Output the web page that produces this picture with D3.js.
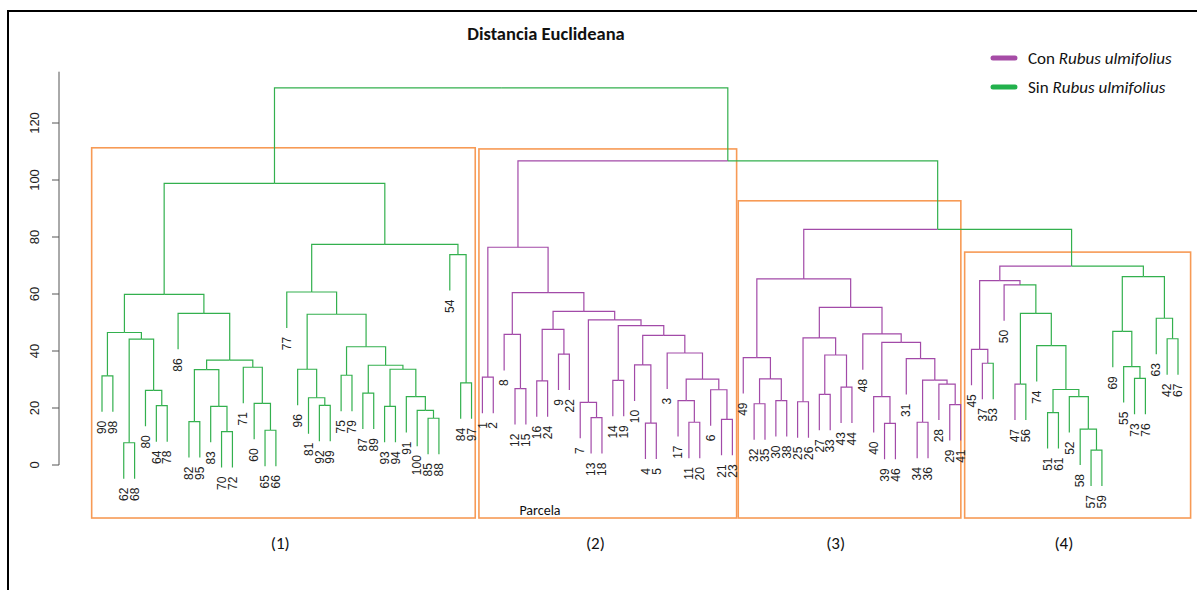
<!DOCTYPE html>
<html>
<head>
<meta charset="utf-8">
<script src="https://cdn.jsdelivr.net/npm/d3@7"></script>
<style>
  body { margin: 0; background: #fff; }
  svg { display: block; }
  .num { font-family: "Liberation Sans", Arial, sans-serif; fill: #222; }
  .cal { font-family: Carlito, Lato, "Open Sans", sans-serif; fill: #111; }
</style>
</head>
<body>
<svg id="chart" width="1197" height="590"></svg>
<script>
// merge nodes: [height, left, right, edgeColourFlag?]  leaves: plot number
const c1 = [98.8,
  [59.9,
    [46.5, [31.3, 90, 98], [44.2, [7.8, 62, 68], [26.2, 80, [20.8, 64, 78]]]],
    [53.2, 86, [36.8,
      [33.5, [15.2, 82, 95], [20.6, 83, [11.7, 70, 72]]],
      [34.3, 71, [21.6, 60, [12.2, 65, 66]]]]]],
  [77.4,
    [60.7, 77, [52.9,
      [33.6, 96, [23.6, 81, [20.9, 92, 99]]],
      [41.5, [31.5, 75, 79],
        [35.0, [25.2, 87, 89],
          [33.6, [20.6, 93, 94], [24.0, 91, [19.2, 100, [16.4, 85, 88]]]]]]]],
    [73.8, 54, [28.8, 84, 97]]]];

const c2 = [76.4,
  [30.8, 1, 2],
  [60.5,
    [45.8, 8, [26.8, 12, 15]],
    [53.9,
      [47.6, [29.5, 16, 24], [38.9, 9, 22]],
      [50.9,
        [22.0, 7, [16.6, 13, 18]],
        [48.9, [29.7, 14, 19],
          [45.5, [35.1, 10, [14.7, 4, 5]],
            [39.3, 3, [30.1, [22.6, 17, [15.0, 11, 20]], [26.4, 6, [16.0, 21, 23]]]]]]]]]];

const c3 = [65.3,
  [37.7, 49, [30.2, [21.5, 32, 35], [22.6, 30, 38]]],
  [55.3,
    [44.6, [22.2, 25, 26], [38.6, [24.8, 27, 33], [27.3, 43, 44]]],
    [46.0, 48, [43.0, [24.0, 40, [14.6, 39, 46]],
      [37.3, 31, [29.8, [15.0, 34, 36], [28.4, 28, [21.2, 29, 41]]]]]]]];

const c4 = [69.8,
  [64.7,
    [40.6, 45, [35.7, 37, 53, "p"], "p"],
    [63.2, 50, [53.2, [28.4, 47, 56],
      [41.9, 74, [26.5, [18.4, 51, 61], [24.0, 52, [12.6, 58, [5.2, 57, 59]]]]]], "p"],
    "p"],
  [66.1,
    [46.9, 69, [34.5, 55, [30.4, 73, 76]]],
    [51.5, 63, [44.3, 42, 67]]]];

const tree = [132.3, c1, [106.7, c2, [82.7, c3, c4]]];
const hang = 12.6;

// plots "Con Rubus ulmifolius"; all others are "Sin"
const conRubus = [1, 2, 3, 4, 5, 6, 7, 8, 9, 10, 11, 12, 13, 14, 15, 16, 17, 18, 19, 20,
  21, 22, 23, 24, 25, 26, 27, 28, 29, 30, 31, 32, 33, 34, 35, 36, 37, 38, 39, 40, 41,
  43, 44, 45, 46, 47, 48, 49, 50];

const yTicks = [0, 20, 40, 60, 80, 100, 120];
const yAxisTop = 138;

// cluster boxes: [from leaf pos, to leaf pos, top height]
const boxes = [[0.05, 35.34, 111.3], [35.68, 59.39, 110.9], [59.54, 80.02, 92.7], [80.37, 101.16, 74.7]];
const boxBottom = -18.6;
const groupNames = ["(1)", "(2)", "(3)", "(4)"];
const groupAt = [17.4, 46.4, 68.5, 89.5];

const legendItems = ["Con", "Sin"];
const PURPLE = "#a24aa8", GREEN = "#33b04e";
const legendCols = ["#a64ca6", "#22b14c"];

const svg = d3.select("#chart");
const x = d3.scaleLinear().domain([1, 100]).range([102, 1178]);
const y = d3.scaleLinear().domain([0, 120]).range([465, 123]);

/* frame */
svg.append("path").attr("d", "M8,590V11H1197").attr("fill", "none")
  .attr("stroke", "#000").attr("stroke-width", 2);

/* hierarchy */
const root = d3.hierarchy(tree, (d) => (Array.isArray(d) ? [d[1], d[2]] : null));
let k = 0;
root.eachAfter((n) => {
  if (!n.children) {
    n.px = ++k;
    n.col = conRubus.includes(n.data) ? PURPLE : GREEN;
  } else {
    n.px = (n.children[0].px + n.children[1].px) / 2;
    const cols = new Set(n.leaves().map((l) => l.col));
    n.col = n.data[3] === "p" ? PURPLE : cols.size === 1 ? [...cols][0] : GREEN;
  }
});
root.eachBefore((n) => { n.h = Array.isArray(n.data) ? n.data[0] : n.parent.h - hang; });

/* boxes */
svg.append("g").selectAll("rect").data(boxes).join("rect")
  .attr("x", (b) => x(b[0])).attr("y", (b) => y(b[2]))
  .attr("width", (b) => x(b[1]) - x(b[0])).attr("height", (b) => y(boxBottom) - y(b[2]))
  .attr("fill", "none").attr("stroke", "#f79a55").attr("stroke-width", 1.6);

/* branches */
svg.append("g").selectAll("path").data(root.descendants().slice(1)).join("path")
  .attr("d", (n) => `M${x(n.parent.px)},${y(n.parent.h)}H${x(n.px)}V${y(n.h)}`)
  .attr("fill", "none").attr("stroke", (n) => n.col).attr("stroke-width", 1.2);

/* leaf labels */
svg.append("g").selectAll("text").data(root.leaves()).join("text")
  .attr("class", "num")
  .attr("transform", (n) => `translate(${x(n.px)},${y(n.h) + 9}) rotate(-90)`)
  .attr("text-anchor", "end").attr("dy", "0.35em").attr("font-size", 12)
  .text((n) => n.data);

/* y axis */
const ax = svg.append("g").attr("transform", "translate(59,0)");
ax.append("line").attr("y1", y(0)).attr("y2", y(yAxisTop)).attr("stroke", "#555");
ax.selectAll("line.t").data(yTicks).join("line").attr("class", "t")
  .attr("x1", -7).attr("x2", 0).attr("y1", (v) => y(v)).attr("y2", (v) => y(v)).attr("stroke", "#555");
ax.selectAll("text").data(yTicks).join("text").attr("class", "num")
  .attr("transform", (v) => `translate(-20,${y(v)}) rotate(-90)`)
  .attr("text-anchor", "middle").attr("font-size", 13).attr("fill", "#333")
  .text((v) => v);

/* title */
svg.append("text").attr("class", "cal").attr("x", 546).attr("y", 40)
  .attr("text-anchor", "middle").attr("font-size", 18.5).attr("font-weight", "bold")
  .text("Distancia Euclideana");

/* legend */
const lg = svg.append("g").selectAll("g").data(legendItems).join("g")
  .attr("transform", (d, i) => `translate(991,${58 + i * 29})`);
lg.append("line").attr("x1", 2).attr("x2", 24).attr("stroke", (d, i) => legendCols[i])
  .attr("stroke-width", 5).attr("stroke-linecap", "round");
const lt = lg.append("text").attr("class", "cal").attr("x", 37).attr("y", 6).attr("font-size", 17);
lt.append("tspan").text((d) => d + " ");
lt.append("tspan").attr("font-style", "italic").text("Rubus ulmifolius");

/* group labels */
svg.append("g").selectAll("text").data(groupNames).join("text").attr("class", "cal")
  .attr("x", (d, i) => x(groupAt[i])).attr("y", 549)
  .attr("text-anchor", "middle").attr("font-size", 17).text((d) => d);

svg.append("text").attr("class", "cal").attr("x", 540).attr("y", 515)
  .attr("text-anchor", "middle").attr("font-size", 14).text("Parcela");
</script>
</body>
</html>
